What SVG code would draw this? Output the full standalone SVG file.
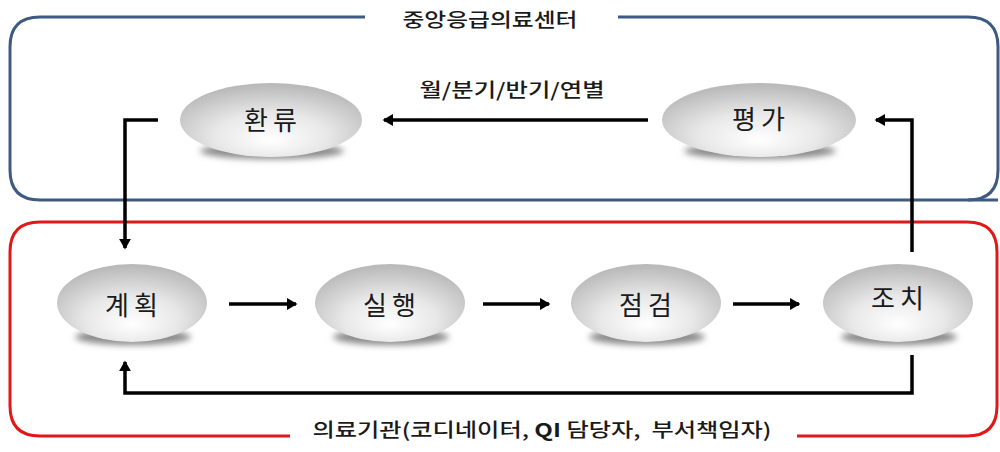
<svg xmlns="http://www.w3.org/2000/svg" width="1000" height="452" viewBox="0 0 1000 452">
<style>
.node-shadow{fill:#8a8a8a;filter:url(#blur)}
.node-body{fill:url(#pill)}
.lbl{font-family:"Noto Sans CJK KR","Noto Sans",sans-serif;fill:#1a1a1a;text-anchor:middle}
.nl{font-size:26px;letter-spacing:5px}
.cap{font-size:19px;font-weight:500}
.conn{fill:none;stroke:#000;stroke-width:3.5;marker-end:url(#ah)}
</style>
<defs>
<radialGradient id="pill" cx="50%" cy="65%" r="62%" fx="50%" fy="78%">
<stop offset="0" stop-color="#ffffff"/>
<stop offset="0.5" stop-color="#e8e8e8"/>
<stop offset="1" stop-color="#bababa"/>
</radialGradient>
<filter id="blur" x="-20%" y="-50%" width="140%" height="200%"><feGaussianBlur stdDeviation="3"/></filter>
<marker id="ah" markerWidth="4" markerHeight="4" refX="2.6" refY="2" orient="auto" markerUnits="strokeWidth">
<path d="M0,0.3 L3,2 L0,3.7 Z" fill="#000"/>
</marker>
</defs>
<rect width="1000" height="452" fill="#ffffff"/>
<g id="group-center">
<path d="M365,17 H40 Q10,17 10,47 V170 Q10,200 40,200 H998" fill="none" stroke="#3e5a80" stroke-width="3"/>
<path d="M618,17 H968 Q998,17 998,47 V170 Q998,200 968,200" fill="none" stroke="#3e5a80" stroke-width="3"/>
<text class="lbl cap" x="490" y="27" textLength="175" lengthAdjust="spacingAndGlyphs">중앙응급의료센터</text>
</g>
<g id="group-hospital">
<path d="M290,436 H40 Q10,436 10,406 V252 Q10,222 40,222 H967 Q997,222 997,252 V406 Q997,436 967,436 H797" fill="none" stroke="#e01818" stroke-width="3"/>
<text class="lbl cap" x="542" y="437" textLength="459" lengthAdjust="spacingAndGlyphs" xml:space="preserve">의료기관(코디네이터, <tspan font-weight="700">QI</tspan> 담당자,  부서책임자)</text>
</g>
<g id="connectors">
<path class="conn" d="M648,120 H384"/>
<path class="conn" d="M158,120 H125 V248"/>
<path class="conn" d="M912,252 V120 H876"/>
<path class="conn" d="M912,355 V393 H125 V362"/>
<path class="conn" d="M229,304 H296"/>
<path class="conn" d="M483,304 H549"/>
<path class="conn" d="M733,304 H799"/>
<text class="lbl cap" x="512" y="97" textLength="185" lengthAdjust="spacingAndGlyphs">월/분기/반기/연별</text>
</g>
<g id="node-hwanryu">
<ellipse class="node-shadow" cx="272" cy="151" rx="72" ry="8"/>
<ellipse class="node-body" cx="271" cy="120" rx="91" ry="37"/>
<text class="lbl nl" x="273" y="130">환류</text>
</g>
<g id="node-pyeongga">
<ellipse class="node-shadow" cx="760" cy="151" rx="76" ry="8"/>
<ellipse class="node-body" cx="759" cy="120" rx="97" ry="37"/>
<text class="lbl nl" x="761" y="129">평가</text>
</g>
<g id="node-gyehoek">
<ellipse class="node-shadow" cx="133" cy="337" rx="58" ry="8"/>
<ellipse class="node-body" cx="132" cy="303" rx="75" ry="39"/>
<text class="lbl nl" x="134" y="315">계획</text>
</g>
<g id="node-silhaeng">
<ellipse class="node-shadow" cx="391" cy="337" rx="58" ry="8"/>
<ellipse class="node-body" cx="390" cy="303" rx="75" ry="39"/>
<text class="lbl nl" x="392" y="315">실행</text>
</g>
<g id="node-jeomgeom">
<ellipse class="node-shadow" cx="647" cy="337" rx="58" ry="8"/>
<ellipse class="node-body" cx="646" cy="303" rx="75" ry="39"/>
<text class="lbl nl" x="648" y="315">점검</text>
</g>
<g id="node-jochi">
<ellipse class="node-shadow" cx="899" cy="337" rx="58" ry="8"/>
<ellipse class="node-body" cx="898" cy="303" rx="75" ry="39"/>
<text class="lbl nl" x="900" y="308">조치</text>
</g>
</svg>
